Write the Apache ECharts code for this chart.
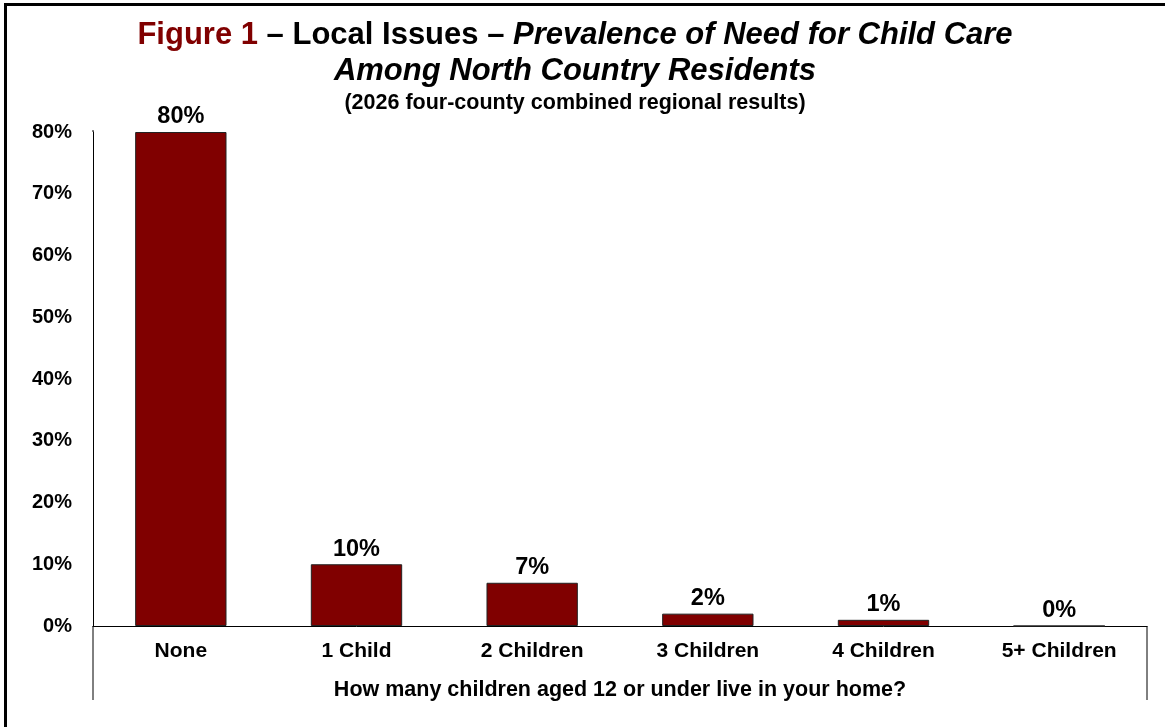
<!DOCTYPE html>
<html>
<head>
<meta charset="utf-8">
<script src="https://cdn.jsdelivr.net/npm/echarts@6/dist/echarts.min.js"></script>
<style>
html,body{margin:0;padding:0;background:#fff;}
#c{width:1165px;height:727px;}
</style>
</head>
<body>
<div id="c"></div>
<script>
const categories = ['None', '1 Child', '2 Children', '3 Children', '4 Children', '5+ Children'];
const values = [80, 10, 7, 2, 1, 0];
const yTicks = [0, 10, 20, 30, 40, 50, 60, 70, 80];

const FONT = '"Liberation Sans", Arial, sans-serif';
const RED = '#800000';
const chart = echarts.init(document.getElementById('c'), null, {renderer: 'canvas'});

const gridLeft = 93, gridRight = 18, gridTop = 132, gridBottom = 101;
const H = 727, W = 1165;

chart.setOption({
  backgroundColor: '#fff',
  animation: false,
  title: [
    {
      left: 570,
      top: 12,
      textAlign: 'center',
      text: '{r|Figure 1}{b| – Local Issues – }{i|Prevalence of Need for Child Care}\n{i|Among North Country Residents}',
      textStyle: {
        rich: {
          r: {fontFamily: FONT, fontWeight: 'bold', fontSize: 31, color: RED, lineHeight: 36},
          b: {fontFamily: FONT, fontWeight: 'bold', fontSize: 31, color: '#000', lineHeight: 36},
          i: {fontFamily: FONT, fontWeight: 'bold', fontStyle: 'italic', fontSize: 31, color: '#000', lineHeight: 36}
        }
      }
    },
    {
      left: 570,
      top: 87,
      textAlign: 'center',
      text: '(2026 four-county combined regional results)',
      textStyle: {fontFamily: FONT, fontWeight: 'bold', fontSize: 21.5, color: '#000'}
    }
  ],
  grid: {left: gridLeft, right: gridRight, top: gridTop, bottom: gridBottom, containLabel: false},
  xAxis: {
    type: 'category',
    data: categories,
    axisLine: {show: true, lineStyle: {color: '#000', width: 1}},
    axisTick: {show: false},
    axisLabel: {fontFamily: FONT, fontWeight: 'bold', fontSize: 21, color: '#000', margin: 15},
    name: 'How many children aged 12 or under live in your home?',
    nameLocation: 'middle',
    nameGap: 53,
    nameTextStyle: {fontFamily: FONT, fontWeight: 'bold', fontSize: 21.5, color: '#000'}
  },
  yAxis: {
    type: 'value',
    min: 0,
    max: 80,
    interval: 10,
    axisLine: {show: true, lineStyle: {color: '#000', width: 1}},
    axisTick: {show: false},
    splitLine: {show: false},
    axisLabel: {
      fontFamily: FONT, fontWeight: 'bold', fontSize: 20, color: '#000', margin: 21,
      formatter: v => yTicks.includes(v) ? v + '%' : ''
    }
  },
  series: [{
    type: 'bar',
    data: values,
    barWidth: '52%',
    itemStyle: {color: RED, borderColor: '#222', borderWidth: 1},
    label: {
      show: true, position: 'top', distance: 3,
      fontFamily: FONT, fontWeight: 'bold', fontSize: 23.5, color: '#000',
      formatter: p => p.value + '%'
    }
  }],
  graphic: [
    {type: 'line', silent: true, shape: {x1: gridLeft, y1: H - gridBottom, x2: gridLeft, y2: 700}, style: {stroke: '#000', lineWidth: 1}},
    {type: 'line', silent: true, shape: {x1: gridLeft, y1: gridTop - 2, x2: gridLeft, y2: gridTop}, style: {stroke: '#000', lineWidth: 1}},
    {type: 'line', silent: true, shape: {x1: W - gridRight, y1: H - gridBottom, x2: W - gridRight, y2: 700}, style: {stroke: '#000', lineWidth: 1}},
    {type: 'rect', silent: true, shape: {x: 5.5, y: 4.5, width: W + 10, height: H + 10}, style: {fill: 'none', stroke: '#000', lineWidth: 3}}
  ]
});
</script>
</body>
</html>
